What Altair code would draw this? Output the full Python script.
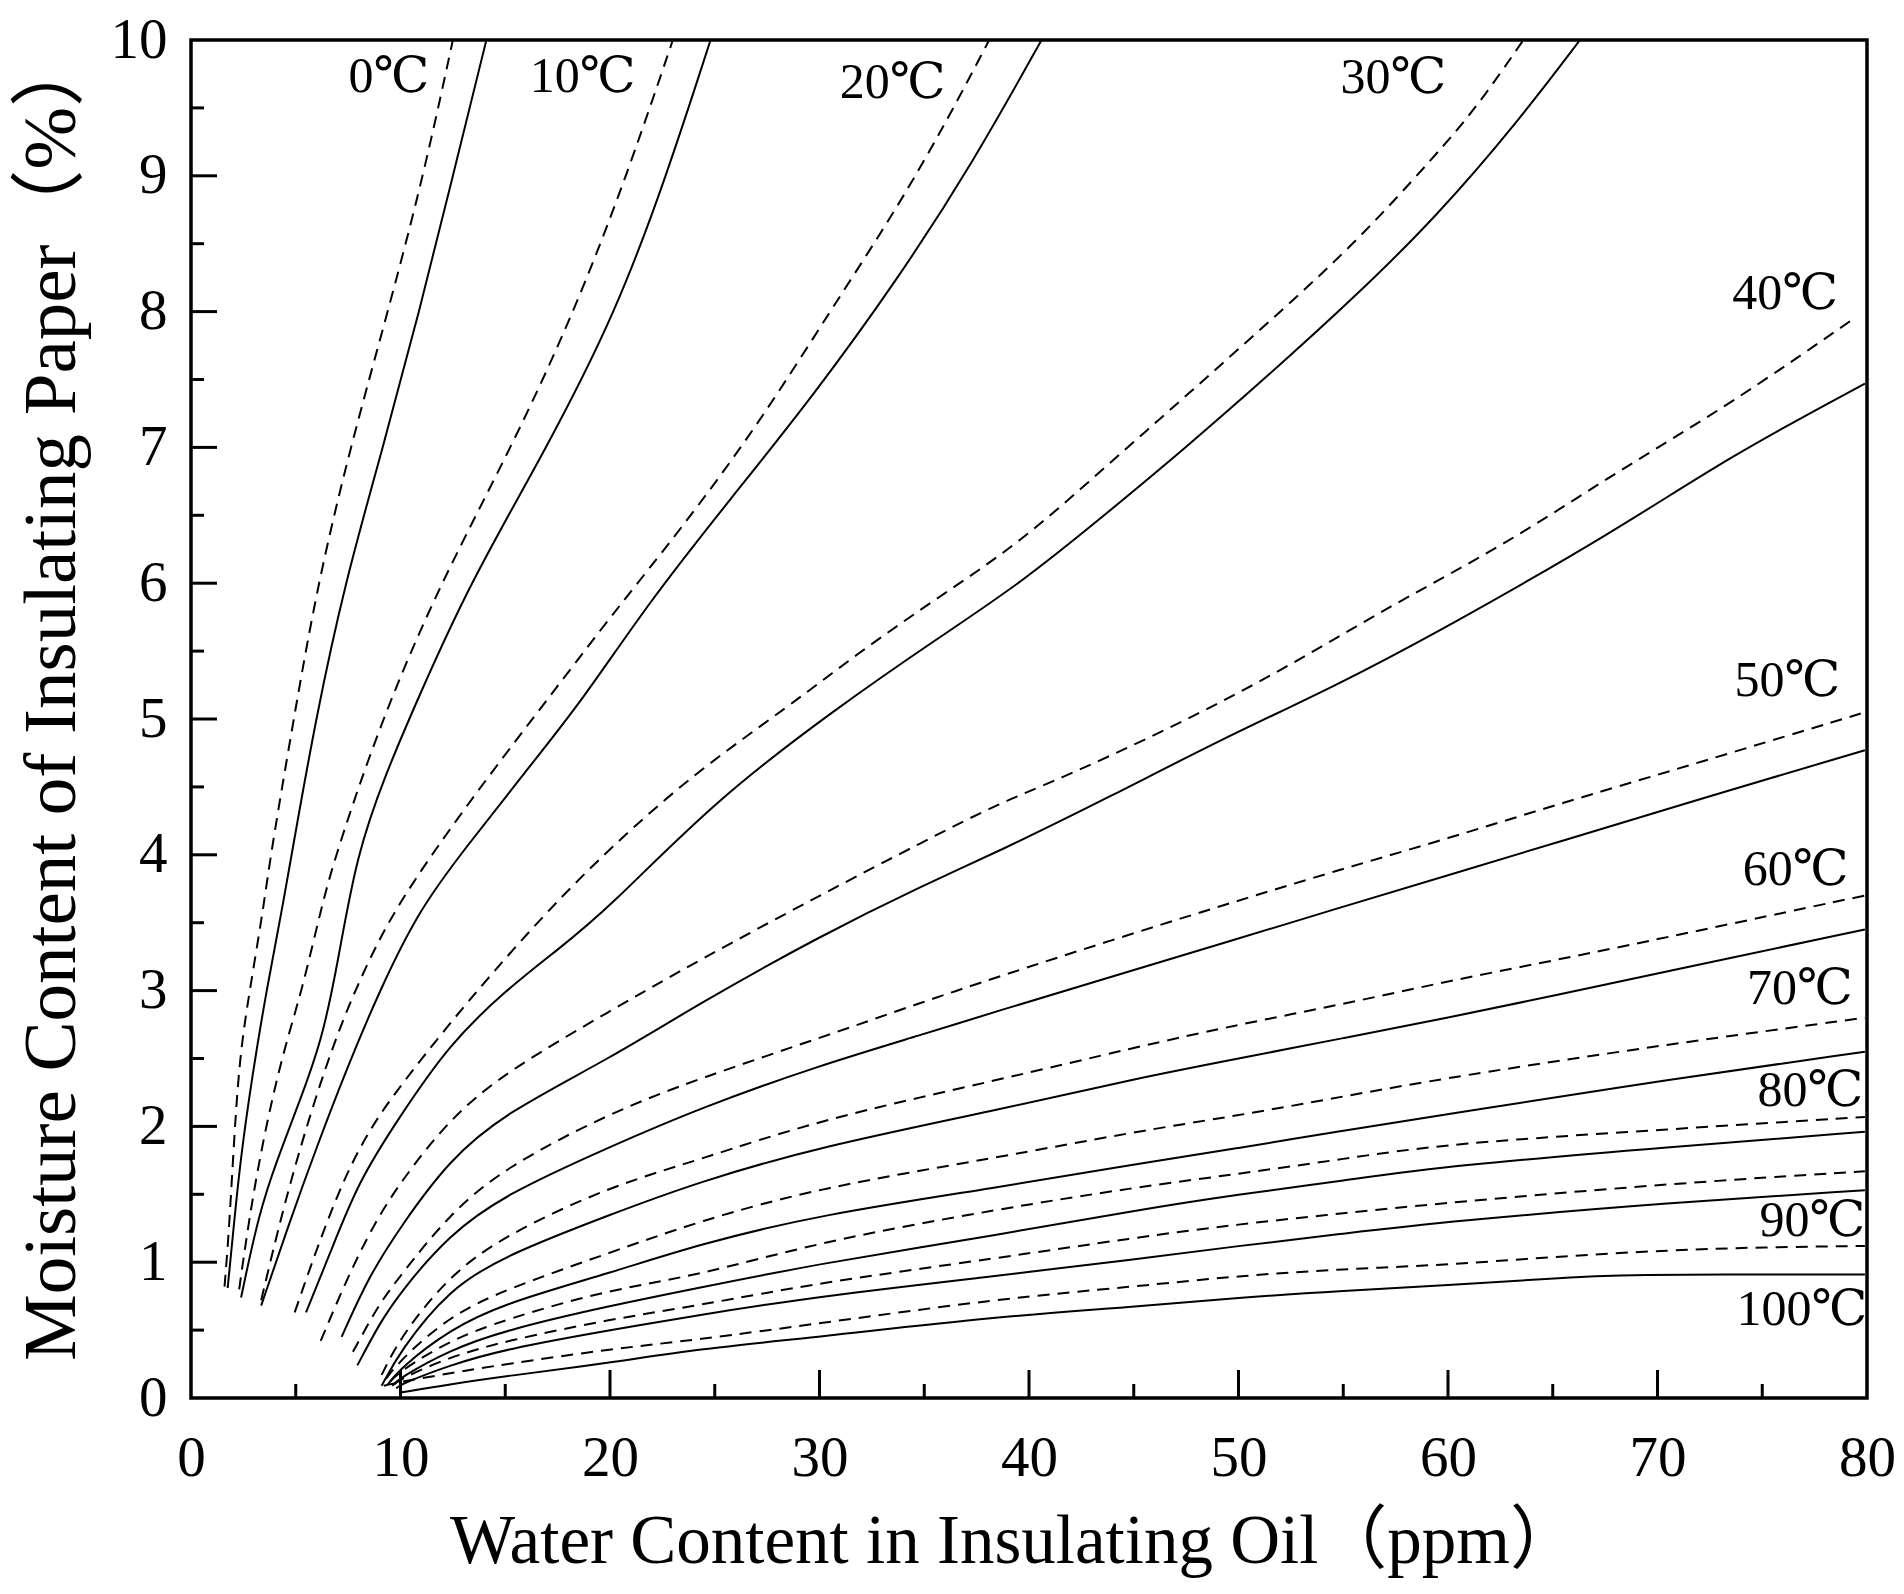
import altair as alt
import pandas as pd

# (water content in oil ppm, moisture content of paper %)
c0_dash = [(1.6, 0.82), (1.8, 1.2), (2.0, 1.75), (2.3, 2.5), (2.8, 3.0), (3.45, 3.6), (3.8, 4.0),
           (4.9, 5.0), (6.05, 6.0), (7.6, 7.0), (9.4, 8.0), (11.1, 9.0), (12.5, 10.0)]
c0_solid = [(1.75, 0.81), (2.0, 1.2), (2.35, 1.75), (2.95, 2.4), (3.6, 3.0), (4.35, 3.6), (4.8, 4.0),
            (5.95, 5.0), (7.34, 6.0), (9.16, 7.0), (10.9, 8.0), (12.5, 9.0), (14.1, 10.0)]
c10_dash = [(2.3, 0.8), (2.8, 1.35), (3.5, 1.95), (4.4, 2.55), (5.3, 3.0), (6.2, 3.6), (6.9, 4.0),
            (9.1, 5.0), (11.9, 6.0), (15.3, 7.0), (18.3, 8.0), (20.8, 9.0), (23.0, 10.0)]
c10_solid = [(2.39, 0.74), (3.24, 1.36), (4.1, 1.75), (5.1, 2.15), (6.25, 2.63), (7.0, 3.2), (7.9, 4.0),
             (9.3, 4.6), (10.8, 5.14), (13.3, 6.0), (17.0, 7.0), (20.3, 8.0), (22.7, 9.0), (24.8, 10.0)]
c20_dash = [(3.35, 0.72), (4.4, 1.4), (5.6, 2.05), (7.0, 2.7), (8.4, 3.2), (9.75, 3.6), (11.7, 4.05),
            (14.3, 4.6), (17.0, 5.14), (20.0, 5.75), (23.4, 6.4), (27.0, 7.15), (30.5, 8.0), (33.7, 8.76),
            (36.1, 9.41), (38.1, 10.0)]
c20_solid = [(3.35, 0.68), (4.6, 1.25), (6.0, 1.85), (7.5, 2.45), (9.0, 3.0), (10.9, 3.6), (13.1, 4.05),
             (15.9, 4.6), (18.7, 5.14), (21.8, 5.85), (25.8, 6.63), (29.7, 7.38), (33.7, 8.23), (37.3, 9.09),
             (40.6, 10.0)]
c30_dash = [(4.95, 0.63), (6.0, 1.1), (7.3, 1.62), (8.6, 2.0), (10, 2.3), (12.3, 2.75), (14.5, 3.15),
            (17.1, 3.6), (20, 4.05), (24, 4.6), (28.6, 5.1), (31.7, 5.47), (35.7, 5.9), (39.6, 6.3),
            (43.6, 6.85), (47.5, 7.38), (51.5, 7.93), (55.5, 8.49), (59.4, 9.15), (61.4, 9.51), (63.6, 10.0)]
c30_solid = [(5.49, 0.63), (6.6, 1.05), (8.0, 1.6), (10, 2.08), (12.3, 2.6), (15, 3.0), (17.5, 3.3),
             (19.9, 3.6), (25, 4.4), (30.9, 5.09), (35.7, 5.6), (39.6, 6.0), (43.6, 6.5), (47.5, 7.0),
             (51.5, 7.54), (55.5, 8.1), (59.4, 8.69), (63.4, 9.41), (66.3, 10.0)]
c40_dash = [(6.19, 0.42), (7.5, 0.9), (8.8, 1.3), (10, 1.59), (12.3, 2.05), (15, 2.4), (20, 2.85),
            (24.2, 3.22), (30, 3.7), (35, 4.1), (38.5, 4.375), (41.2, 4.54), (46.6, 4.92), (52, 5.35),
            (57.3, 5.84), (62.7, 6.28), (68.05, 6.82), (73.4, 7.31), (79.2, 7.93)]
c40_solid = [(7.19, 0.45), (8.5, 0.9), (10, 1.26), (12.3, 1.75), (15, 2.1), (20, 2.5), (24.2, 2.9),
             (30, 3.4), (35, 3.78), (38.5, 4.02), (43.9, 4.43), (49.3, 4.86), (54.6, 5.24), (60, 5.68),
             (68.05, 6.39), (73.4, 6.93), (79.9, 7.47)]
c50_dash = [(7.73, 0.34), (9, 0.7), (10, 0.9), (12.3, 1.35), (15, 1.7), (20, 2.1), (24.2, 2.35), (30, 2.65),
            (35, 2.92), (38.5, 3.1), (43.9, 3.37), (49.3, 3.63), (54.6, 3.88), (60, 4.12), (65.4, 4.38),
            (70.7, 4.62), (79.7, 5.04)]
c50_solid = [(7.94, 0.24), (9, 0.55), (10, 0.78), (12.3, 1.2), (15, 1.5), (20, 1.85), (24.2, 2.13),
             (30, 2.45), (35, 2.68), (38.5, 2.85), (43.9, 3.1), (49.3, 3.35), (54.6, 3.6), (60, 3.85),
             (65.4, 4.1), (70.7, 4.35), (79.9, 4.77)]
c60_dash = [(9.1, 0.17), (10, 0.45), (12.3, 0.9), (15, 1.2), (20, 1.56), (24.2, 1.75), (30, 2.05),
            (38.5, 2.34), (45, 2.58), (50, 2.75), (55, 2.9), (60, 3.07), (65, 3.22), (70.7, 3.4), (79.9, 3.7)]
c60_solid = [(9.1, 0.09), (10, 0.35), (12.3, 0.8), (15, 1.05), (20, 1.35), (24.2, 1.59), (30, 1.85),
             (38.5, 2.12), (45, 2.35), (50, 2.5), (55, 2.65), (60, 2.8), (65, 2.96), (70.7, 3.15), (79.9, 3.45)]
c70_dash = [(9.3, 0.14), (10, 0.28), (12.3, 0.6), (15, 0.8), (20, 1.07), (24.2, 1.3), (30, 1.55),
            (38.5, 1.77), (45, 1.96), (50, 2.08), (55, 2.22), (60, 2.36), (70.7, 2.61), (79.9, 2.8)]
c70_solid = [(9.4, 0.1), (10, 0.22), (12.3, 0.5), (15, 0.7), (20, 0.92), (24.2, 1.13), (30, 1.35),
             (38.5, 1.55), (45, 1.72), (50, 1.84), (55, 1.97), (60, 2.09), (70.7, 2.35), (79.9, 2.55)]
c80_dash = [(9.5, 0.12), (10, 0.2), (12.3, 0.42), (15, 0.58), (20, 0.8), (24.2, 0.9), (30, 1.15),
            (38.5, 1.39), (45, 1.55), (50, 1.65), (55, 1.76), (60, 1.875), (70.7, 1.98), (79.9, 2.07)]
c80_solid = [(9.6, 0.09), (10, 0.15), (12.3, 0.35), (15, 0.5), (20, 0.68), (24.2, 0.81), (30, 0.99),
             (38.5, 1.2), (45, 1.38), (50, 1.5), (55, 1.6), (60, 1.71), (70.7, 1.85), (79.9, 1.96)]
c90_dash = [(9.7, 0.1), (10, 0.14), (12.3, 0.3), (15, 0.42), (20, 0.58), (24.2, 0.68), (30, 0.85),
            (38.5, 1.03), (45, 1.18), (50, 1.28), (55, 1.36), (60, 1.44), (70.7, 1.58), (79.9, 1.67)]
c90_solid = [(9.8, 0.07), (10, 0.1), (12.3, 0.24), (15, 0.36), (20, 0.5), (24.2, 0.61), (30, 0.75),
             (38.5, 0.9), (45, 1.02), (50, 1.12), (55, 1.21), (60, 1.3), (70.7, 1.44), (79.9, 1.53)]
c100_dash = [(9.2, 0.09), (10, 0.12), (12.3, 0.18), (15, 0.25), (20, 0.36), (24.2, 0.43), (30, 0.55),
             (38.5, 0.73), (45, 0.82), (50, 0.9), (55, 0.95), (60, 0.98), (65, 1.04), (70.7, 1.09),
             (75, 1.11), (79.9, 1.12)]
c100_solid = [(10, 0.04), (12.3, 0.1), (15, 0.16), (20, 0.26), (24.2, 0.36), (30, 0.45), (38.5, 0.6),
              (45, 0.67), (50, 0.74), (55, 0.79), (60, 0.83), (65, 0.88), (68, 0.91), (79.9, 0.91)]

temps = [0, 10, 20, 30, 40, 50, 60, 70, 80, 90, 100]
dashed_curves = [c0_dash, c10_dash, c20_dash, c30_dash, c40_dash, c50_dash,
                 c60_dash, c70_dash, c80_dash, c90_dash, c100_dash]
solid_curves = [c0_solid, c10_solid, c20_solid, c30_solid, c40_solid, c50_solid,
                c60_solid, c70_solid, c80_solid, c90_solid, c100_solid]

# temperature labels placed next to each pair of curves
label_text = ['0℃', '10℃', '20℃', '30℃', '40℃', '50℃', '60℃', '70℃', '80℃', '90℃', '100℃']
label_ppm = [9.45, 18.7, 33.5, 57.4, 76.1, 76.2, 76.6, 76.8, 77.3, 77.4, 76.9]
label_pct = [9.73, 9.73, 9.68, 9.72, 8.13, 5.28, 3.89, 3.01, 2.26, 1.30, 0.65]

x_labels = [0, 10, 20, 30, 40, 50, 60, 70, 80]
y_labels = [0, 1, 2, 3, 4, 5, 6, 7, 8, 9, 10]
x_major = [10, 20, 30, 40, 50, 60, 70]
x_minor = [5, 15, 25, 35, 45, 55, 65, 75]
y_major = [1, 2, 3, 4, 5, 6, 7, 8, 9]
y_minor = [0.5, 1.5, 2.5, 3.5, 4.5, 5.5, 6.5, 7.5, 8.5, 9.5]


def to_frame(curves):
    rows = []
    for t, pts in zip(temps, curves):
        for i, (x, y) in enumerate(pts):
            rows.append({'curve': str(t), 'i': i, 'ppm': x, 'pct': y})
    return pd.DataFrame(rows)


W, H = 1676, 1358
FONT = "'Liberation Serif', 'DejaVu Serif', 'Noto Sans CJK SC', serif"

xs = alt.Scale(domain=[0, 80], nice=False, zero=False)
ys = alt.Scale(domain=[0, 10], nice=False, zero=False)

x_axis = alt.Axis(values=x_labels, title='Water Content in Insulating Oil（ppm）',
                  grid=False, ticks=False, tickSize=0, domain=False,
                  labelFont=FONT, labelFontSize=57, labelColor='black', labelPadding=60,
                  labelBaseline='middle', labelFlush=False,
                  titleFont=FONT, titleFontSize=69, titleFontWeight='normal', titleColor='black',
                  titleX=823, titleY=143, titleBaseline='middle', titleAlign='center')
y_axis = alt.Axis(values=y_labels, title='Moisture Content of Insulating Paper（%）',
                  grid=False, ticks=False, tickSize=0, domain=False,
                  labelFont=FONT, labelFontSize=57, labelColor='black', labelPadding=24,
                  labelFlush=False,
                  titleFont=FONT, titleFontSize=75, titleFontWeight='normal', titleColor='black',
                  titleX=-140, titleY=656, titleAngle=-90, titleBaseline='middle', titleAlign='center')

X = alt.X('ppm:Q', scale=xs, axis=x_axis)
Y = alt.Y('pct:Q', scale=ys, axis=y_axis)

solid = alt.Chart(to_frame(solid_curves)).mark_line(
    color='black', strokeWidth=2, interpolate='basis', clip=True
).encode(x=X, y=Y, detail='curve:N', order='i:Q')

dashed = alt.Chart(to_frame(dashed_curves)).mark_line(
    color='black', strokeWidth=2, strokeDash=[12, 8], interpolate='basis', clip=True
).encode(x=X, y=Y, detail='curve:N', order='i:Q')

# inward ticks drawn as rules
x_major_ticks = alt.Chart(pd.DataFrame({'ppm': x_major})).mark_rule(color='black', strokeWidth=3).encode(
    x=X, y=alt.value(H), y2=alt.value(H - 28))
x_minor_ticks = alt.Chart(pd.DataFrame({'ppm': x_minor})).mark_rule(color='black', strokeWidth=3).encode(
    x=X, y=alt.value(H), y2=alt.value(H - 14))
y_major_ticks = alt.Chart(pd.DataFrame({'pct': y_major})).mark_rule(color='black', strokeWidth=3).encode(
    y=Y, x=alt.value(0), x2=alt.value(26))
y_minor_ticks = alt.Chart(pd.DataFrame({'pct': y_minor})).mark_rule(color='black', strokeWidth=3).encode(
    y=Y, x=alt.value(0), x2=alt.value(13))

labels = alt.Chart(pd.DataFrame({'ppm': label_ppm, 'pct': label_pct, 'text': label_text})).mark_text(
    font=FONT, fontSize=50, color='black', align='center', baseline='middle'
).encode(x=X, y=Y, text='text:N')

chart = alt.layer(
    solid, dashed, x_major_ticks, x_minor_ticks, y_major_ticks, y_minor_ticks, labels
).properties(
    width=W, height=H,
    autosize='none',
    background='white',
    padding={'left': 183, 'top': 32, 'right': 29, 'bottom': 190}
).configure_view(
    stroke='black', strokeWidth=3.5
)

chart.save('out.html', embed_options={'renderer': 'svg', 'actions': False})
